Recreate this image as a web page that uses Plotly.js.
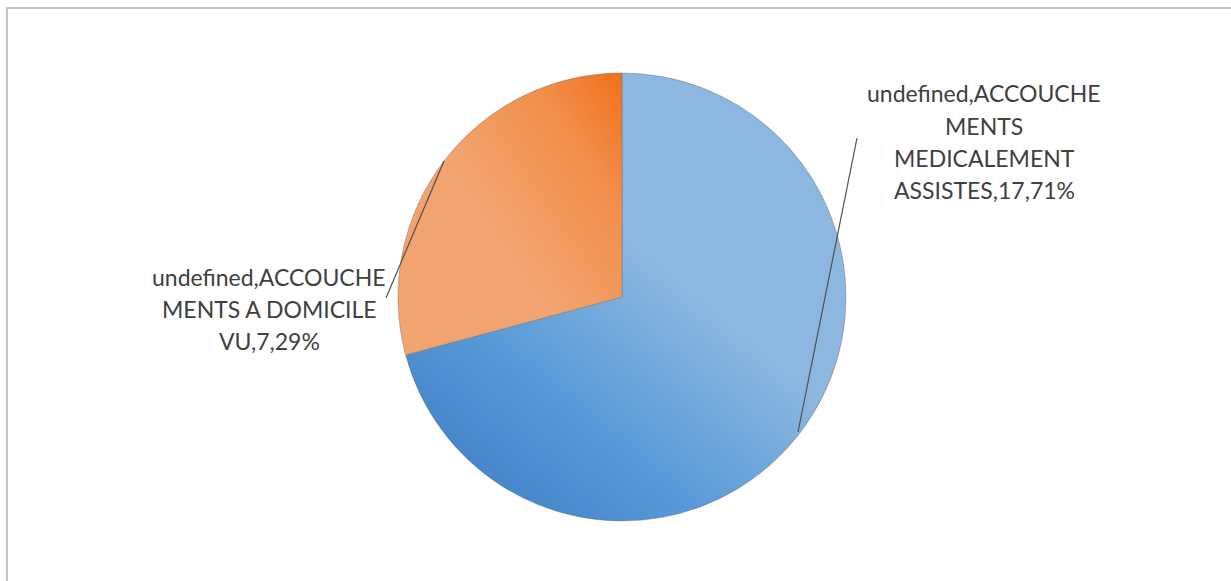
<!DOCTYPE html>
<html>
<head>
<meta charset="utf-8">
<script src="https://cdn.plot.ly/plotly-3.0.1.min.js"></script>
<style>
html,body{margin:0;padding:0;background:#fff;}
#chart{width:1231px;height:581px;}
</style>
</head>
<body>
<div id="chart"></div>
<script>
// ---- data ----
const categories = ["ACCOUCHEMENTS MEDICALEMENT ASSISTES", "ACCOUCHEMENTS A DOMICILE VU"];
const values = [17, 7];
const sliceColors = ["#6ea7dd", "#f29654"];
// label lines as they appear on the chart (wrapped)
const labelLinesRight = ["undefined,ACCOUCHE", "MENTS", "MEDICALEMENT", "ASSISTES,17,71%"];
const labelLinesLeft = ["undefined,ACCOUCHE", "MENTS A DOMICILE", "VU,7,29%"];

const W = 1231, H = 581;
const px = x => x / W;
const py = y => 1 - y / H;

const font = {family: "Lato, 'Open Sans', sans-serif", size: 23, color: "#404040"};
const annotations = [];
labelLinesRight.forEach((t, i) => {
  annotations.push({text: t, xref: "paper", yref: "paper", x: px(984), y: py(93 + i * 32.5),
    xanchor: "center", yanchor: "middle", showarrow: false, font: font});
});
labelLinesLeft.forEach((t, i) => {
  annotations.push({text: t, xref: "paper", yref: "paper", x: px(269), y: py(277 + i * 32),
    xanchor: "center", yanchor: "middle", showarrow: false, font: font});
});

const shapes = [
  {type: "rect", xref: "paper", yref: "paper", x0: px(7), x1: 1.02, y0: -0.02, y1: py(8),
    line: {color: "#c4c4c4", width: 2}, fillcolor: "rgba(0,0,0,0)", layer: "below"},
  {type: "line", xref: "paper", yref: "paper", x0: px(798), y0: py(432), x1: px(857), y1: py(138),
    line: {color: "#505050", width: 1.2}},
  {type: "line", xref: "paper", yref: "paper", x0: px(444), y0: py(161), x1: px(386), y1: py(298),
    line: {color: "#505050", width: 1.2}}
];

const trace = {
  type: "pie",
  labels: categories,
  values: values,
  sort: false,
  direction: "clockwise",
  rotation: 0,
  textinfo: "none",
  hoverinfo: "label+value+percent",
  marker: {colors: sliceColors, line: {color: "rgba(110,110,110,0.55)", width: 0.8}},
  domain: {x: [px(398), px(846)], y: [py(521), py(73)]}
};

const layout = {
  width: W, height: H,
  margin: {l: 0, r: 0, t: 0, b: 0},
  paper_bgcolor: "#ffffff",
  showlegend: false,
  annotations: annotations,
  shapes: shapes
};

Plotly.newPlot("chart", [trace], layout, {displayModeBar: false, staticPlot: true}).then(gd => {
  const svg = gd.querySelector("svg.main-svg");
  const ns = "http://www.w3.org/2000/svg";
  let defs = svg.querySelector("defs");
  if (!defs) { defs = document.createElementNS(ns, "defs"); svg.insertBefore(defs, svg.firstChild); }
  function grad(id, x1, y1, x2, y2, stops) {
    const g = document.createElementNS(ns, "linearGradient");
    g.setAttribute("id", id);
    g.setAttribute("x1", x1); g.setAttribute("y1", y1);
    g.setAttribute("x2", x2); g.setAttribute("y2", y2);
    stops.forEach(s => {
      const st = document.createElementNS(ns, "stop");
      st.setAttribute("offset", s[0]);
      st.setAttribute("stop-color", s[1]);
      g.appendChild(st);
    });
    defs.appendChild(g);
  }
  grad("gBlue", 0.12, 0.95, 0.55, 0.42, [[0, "#3f81c6"], [0.5, "#5a9bd9"], [1, "#8cb7e1"]]);
  grad("gOrange", 1, 0.02, 0.42, 0.52, [[0, "#f0711a"], [0.4, "#f28f4c"], [1, "#f1a46f"]]);
  const paths = gd.querySelectorAll(".slice path.surface");
  if (paths[0]) paths[0].style.fill = "url(#gBlue)";
  if (paths[1]) paths[1].style.fill = "url(#gOrange)";
});
</script>
</body>
</html>
